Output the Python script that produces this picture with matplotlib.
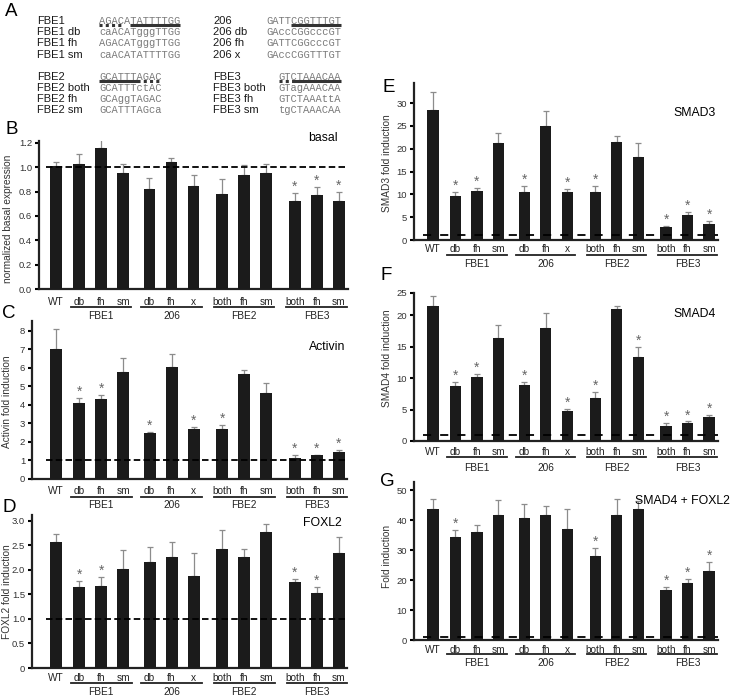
import numpy as np
import matplotlib.pyplot as plt
from matplotlib import transforms as mtransforms
from matplotlib.lines import Line2D

plt.rcParams['font.family'] = ['Liberation Sans', 'DejaVu Sans']

# ---- data ----
categories = ['WT', 'db', 'fh', 'sm', 'db', 'fh', 'x', 'both', 'fh', 'sm', 'both', 'fh', 'sm']
group_names = ['FBE1', '206', 'FBE2', 'FBE3']
group_members = [[1, 2, 3], [4, 5, 6], [7, 8, 9], [10, 11, 12]]
baseline = 1.0

basal_mean = [1.01, 1.03, 1.16, 0.95, 0.82, 1.04, 0.85, 0.78, 0.94, 0.95, 0.72, 0.77, 0.72]
basal_err = [0.03, 0.08, 0.08, 0.08, 0.09, 0.04, 0.09, 0.12, 0.08, 0.08, 0.07, 0.07, 0.08]
basal_sig = [10, 11, 12]

activin_mean = [7.0, 4.1, 4.33, 5.8, 2.48, 6.03, 2.72, 2.72, 5.68, 4.62, 1.15, 1.27, 1.48]
activin_err = [1.12, 0.27, 0.2, 0.72, 0.06, 0.72, 0.1, 0.22, 0.22, 0.56, 0.14, 0.04, 0.09]
activin_sig = [1, 2, 4, 6, 7, 10, 11, 12]

foxl2_mean = [2.56, 1.66, 1.67, 2.02, 2.16, 2.27, 1.87, 2.43, 2.27, 2.77, 1.75, 1.52, 2.35]
foxl2_err = [0.18, 0.11, 0.18, 0.38, 0.3, 0.3, 0.47, 0.38, 0.15, 0.16, 0.06, 0.13, 0.32]
foxl2_sig = [1, 2, 10, 11]

smad3_mean = [28.4, 9.6, 10.7, 21.2, 10.6, 25.0, 10.6, 10.6, 21.5, 18.1, 2.9, 5.5, 3.5]
smad3_err = [4.0, 0.9, 0.8, 2.2, 1.2, 3.2, 0.5, 1.2, 1.3, 3.1, 0.2, 0.6, 0.7]
smad3_sig = [1, 2, 4, 6, 7, 10, 11, 12]

smad4_mean = [21.4, 8.7, 10.1, 16.3, 8.9, 18.0, 4.7, 6.9, 20.9, 13.4, 2.4, 2.8, 3.8]
smad4_err = [1.6, 0.7, 0.6, 2.1, 0.5, 2.4, 0.4, 0.9, 0.6, 1.6, 0.5, 0.3, 0.3]
smad4_sig = [1, 2, 4, 6, 7, 9, 10, 11, 12]

combo_mean = [43.6, 34.4, 35.9, 41.8, 40.8, 41.8, 37.1, 28.0, 41.8, 43.6, 16.8, 19.1, 23.1]
combo_err = [3.3, 2.3, 2.3, 4.8, 4.6, 3.0, 6.5, 2.6, 5.1, 2.6, 0.8, 1.4, 2.8]
combo_sig = [1, 7, 10, 11, 12]

# sequences for panel A
seq_names_left = ['FBE1', 'FBE1 db', 'FBE1 fh', 'FBE1 sm', 'FBE2', 'FBE2 both', 'FBE2 fh', 'FBE2 sm']
seqs_left = ['AGACATATTTTGG', 'caACATgggTTGG', 'AGACATgggTTGG', 'caACATATTTTGG',
             'GCATTTAGAC', 'GCATTTctAC', 'GCAggTAGAC', 'GCATTTAGca']
seq_names_right = ['206', '206 db', '206 fh', '206 x', 'FBE3', 'FBE3 both', 'FBE3 fh', 'FBE3 sm']
seqs_right = ['GATTCGGTTTGT', 'GAccCGGcccGT', 'GATTCGGcccGT', 'GAccCGGTTTGT',
              'GTCTAAACAA', 'GTagAAACAA', 'GTCTAAAttA', 'tgCTAAACAA']

# ---- layout (pixels) ----
W, H = 732, 699
fig = plt.figure(figsize=(W / 100, H / 100), dpi=100)

bar_x = np.array([0, 1.05, 2.05, 3.05, 4.25, 5.25, 6.25, 7.55, 8.55, 9.55, 10.85, 11.85, 12.85])


def fx(x):
    return x / W


def fy(y):
    return 1 - y / H


def draw_panel(box, xlim, ylim, mean, err, sig, ticks, ticklabels, title, title_xy,
               ylabel, ylabel_xy, letter, letter_xy, offs, dash, title_ha='center'):
    left, top, right, bottom = box
    ax = fig.add_axes([fx(left), fy(bottom), (right - left) / W, (bottom - top) / H])
    ax.bar(bar_x, mean, width=0.53, color='#1b1b1b', zorder=3)
    ax.errorbar(bar_x, mean, yerr=[np.zeros(len(err)), err], fmt='none', ecolor='#8c8c8c',
                elinewidth=0.9, capsize=2.4, capthick=0.9, zorder=2)
    ax.plot([-0.45, xlim[1]], [baseline, baseline], color='k', lw=1.3,
            linestyle=dash, zorder=4, clip_on=False)
    for i in sig:
        ax.annotate('*', xy=(bar_x[i], mean[i] + err[i]), xytext=(0, 1.5),
                    textcoords='offset points', ha='center', va='baseline',
                    fontsize=10, color='#666666')
    ax.set_xlim(*xlim)
    ax.set_ylim(*ylim)
    for s in ['top', 'right']:
        ax.spines[s].set_visible(False)
    for s in ['left', 'bottom']:
        ax.spines[s].set_linewidth(1.6)
        ax.spines[s].set_color('#222222')
    ax.set_xticks([])
    ax.set_yticks(ticks)
    ax.set_yticklabels(ticklabels)
    ax.tick_params(axis='y', length=3, width=1.5, pad=2, labelsize=6.8, labelcolor='#333333')
    xt = ax.get_xaxis_transform()
    lab_off, line_off, grp_off = offs
    for x, c in zip(bar_x, categories):
        ax.annotate(c, xy=(x, 0), xycoords=xt, xytext=(0, -lab_off * 0.72),
                    textcoords='offset points', ha='center', va='center',
                    fontsize=7.3, color='#222222')
    line_tr = mtransforms.offset_copy(xt, fig=fig, y=-line_off, units='dots')
    for name, mem in zip(group_names, group_members):
        x0, x1 = bar_x[mem[0]] - 0.38, bar_x[mem[-1]] + 0.38
        ax.plot([x0, x1], [0, 0], transform=line_tr, color='#222222', lw=1.3, clip_on=False)
        ax.annotate(name, xy=((x0 + x1) / 2, 0), xycoords=xt, xytext=(0, -grp_off * 0.72),
                    textcoords='offset points', ha='center', va='center',
                    fontsize=7.3, color='#222222')
    fig.text(fx(title_xy[0]), fy(title_xy[1]), title, ha=title_ha, va='center', fontsize=8.8)
    fig.text(fx(ylabel_xy[0]), fy(ylabel_xy[1]), ylabel, rotation=90, ha='center',
             va='center', fontsize=7.3, color='#333333')
    fig.text(fx(letter_xy[0]), fy(letter_xy[1]), letter, ha='center', va='center', fontsize=13.5)
    return ax


dash_left = (0, (3.6, 1.8))
dash_right = (0, (4.5, 5.0))

draw_panel((39, 140.5, 348, 289), (-0.77, 13.27), (0, 1.22), basal_mean, basal_err, basal_sig,
           np.arange(0, 1.21, 0.2), ['0.0', '0.2', '0.4', '0.6', '0.8', '1.0', '1.2'],
           'basal', (323, 138), 'normalized basal expression', (8, 219), 'B', (12, 129),
           (12.7, 18.3, 27), dash_left)

draw_panel((32, 320.7, 347, 479), (-1.1, 13.22), (0, 8.55), activin_mean, activin_err,
           activin_sig, np.arange(0, 9), [str(v) for v in range(9)],
           'Activin', (327, 347), 'Activin fold induction', (7.5, 402), 'C', (9, 313),
           (12, 17.7, 26), dash_left)

draw_panel((32, 515, 347, 668), (-1.1, 13.22), (0, 3.12), foxl2_mean, foxl2_err, foxl2_sig,
           np.arange(0, 3.01, 0.5), ['0', '0.5', '1.0', '1.5', '2.0', '2.5', '3.0'],
           'FOXL2', (322, 523), 'FOXL2 fold induction', (7, 592), 'D', (9, 507),
           (10.3, 15.3, 23.7), dash_left)

draw_panel((414, 83, 718, 240), (-0.88, 13.26), (0, 34.4), smad3_mean, smad3_err, smad3_sig,
           np.arange(0, 31, 5), [str(v) for v in range(0, 31, 5)],
           'SMAD3', (695, 113), 'SMAD3 fold induction', (387, 163), 'E', (389, 87),
           (9.3, 15, 24), dash_right)

draw_panel((414, 293, 718, 441), (-0.88, 13.26), (0, 23.5), smad4_mean, smad4_err, smad4_sig,
           [0, 5, 10, 15, 20, 23.5], ['0', '5', '10', '15', '20', '25'],
           'SMAD4', (695, 314), 'SMAD4 fold induction', (387, 358), 'F', (386, 275),
           (11.3, 15.7, 27.3), dash_right)

draw_panel((414, 482, 718, 640), (-0.88, 13.26), (0, 52.7), combo_mean, combo_err, combo_sig,
           np.arange(0, 51, 10), [str(v) for v in range(0, 51, 10)],
           'SMAD4 + FOXL2', (730, 501), 'Fold induction', (387, 556), 'G', (387, 482),
           (10, 14, 22.7), dash_right, title_ha='right')

# ---- panel A: sequences ----
fig.text(fx(11), fy(12), 'A', ha='center', va='center', fontsize=13.5)
row_y = [21, 32.2, 43.4, 54.6, 76.5, 87.7, 98.9, 110.1]
cw = 6.25  # monospace char width in px
for name, seq, y in zip(seq_names_left, seqs_left, row_y):
    fig.text(fx(37), fy(y), name, ha='left', va='center', fontsize=8, color='#1a1a1a')
    fig.text(fx(99), fy(y), seq, ha='left', va='center', fontsize=7.5,
             family='Liberation Mono', color='#7a7a7a')
for name, seq, y in zip(seq_names_right, seqs_right, row_y):
    fig.text(fx(213), fy(y), name, ha='left', va='center', fontsize=8, color='#1a1a1a')
    fig.text(fx(341), fy(y), seq, ha='right', va='center', fontsize=7.5,
             family='Liberation Mono', color='#7a7a7a')


def underline(x_start, c0, c1, y, dashed=False):
    ls = (0, (1.0, 1.05)) if dashed else '-'
    line = Line2D([fx(x_start + c0 * cw), fx(x_start + c1 * cw)], [fy(y), fy(y)],
                  transform=fig.transFigure, color='#333333', lw=2.2, linestyle=ls,
                  solid_capstyle='butt', dash_capstyle='butt')
    fig.add_artist(line)


# FBE1
underline(99, 5, 13, row_y[0] + 4)
underline(99, 0, 4, row_y[0] + 4, dashed=True)
# 206
x206 = 341 - len(seqs_right[0]) * cw
underline(x206, 4, 12, row_y[0] + 4)
# FBE2
underline(99, 0, 6.4, row_y[4] + 4)
underline(99, 6, 10, row_y[4] + 4, dashed=True)
# FBE3
xf3 = 341 - len(seqs_right[4]) * cw
underline(xf3, 0, 4, row_y[4] + 4, dashed=True)
underline(xf3, 2.4, 10, row_y[4] + 4)

fig.savefig('out.png', dpi=100)
